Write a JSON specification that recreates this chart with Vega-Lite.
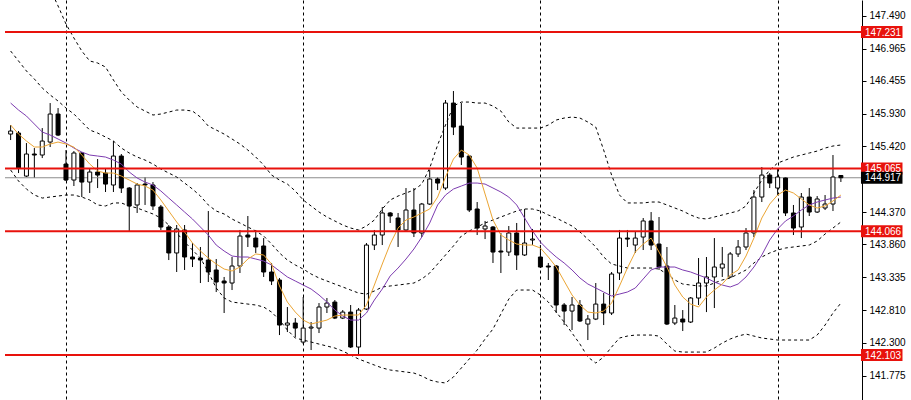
{
"$schema": "https://vega.github.io/schema/vega-lite/v6.json",
"width": 862, "height": 400, "padding": {"left": 0, "top": 0, "right": 49, "bottom": 0}, "autosize": {"type": "none"},
"background": "white",
"config": {"view": {"stroke": null}},
"datasets": {
"candles": [
{"i":0,"o":145.611,"h":145.754,"l":145.516,"c":145.659,"fast":145.754,"slow":146.103,"up":148.977,"mid":146.929,"low":145.040},
{"i":1,"o":145.627,"h":145.659,"l":144.992,"c":145.071,"fast":145.611,"slow":145.992,"up":148.850,"mid":146.771,"low":144.865},
{"i":2,"o":144.944,"h":145.468,"l":144.929,"c":145.294,"fast":145.500,"slow":145.897,"up":148.692,"mid":146.612,"low":144.738},
{"i":3,"o":145.294,"h":145.389,"l":144.913,"c":145.278,"fast":145.405,"slow":145.770,"up":148.469,"mid":146.485,"low":144.643},
{"i":4,"o":145.278,"h":145.706,"l":145.230,"c":145.500,"fast":145.405,"slow":145.643,"up":148.184,"mid":146.342,"low":144.595},
{"i":5,"o":145.484,"h":146.103,"l":145.405,"c":145.929,"fast":145.453,"slow":145.595,"up":147.914,"mid":146.231,"low":144.611},
{"i":6,"o":145.929,"h":146.024,"l":145.579,"c":145.595,"fast":145.484,"slow":145.532,"up":147.644,"mid":146.135,"low":144.627},
{"i":7,"o":145.135,"h":145.357,"l":144.865,"c":144.881,"fast":145.453,"slow":145.468,"up":147.358,"mid":146.024,"low":144.643},
{"i":8,"o":144.881,"h":145.341,"l":144.786,"c":145.310,"fast":145.405,"slow":145.389,"up":147.136,"mid":145.929,"low":144.643},
{"i":9,"o":145.310,"h":145.325,"l":144.611,"c":144.849,"fast":145.278,"slow":145.325,"up":146.929,"mid":145.802,"low":144.611},
{"i":10,"o":144.849,"h":145.071,"l":144.675,"c":145.008,"fast":145.135,"slow":145.278,"up":146.771,"mid":145.675,"low":144.564},
{"i":11,"o":145.008,"h":145.214,"l":144.754,"c":144.960,"fast":145.024,"slow":145.262,"up":146.739,"mid":145.627,"low":144.485},
{"i":12,"o":144.992,"h":145.071,"l":144.691,"c":144.817,"fast":144.992,"slow":145.246,"up":146.675,"mid":145.564,"low":144.469},
{"i":13,"o":144.802,"h":145.500,"l":144.691,"c":145.262,"fast":144.992,"slow":145.198,"up":146.469,"mid":145.500,"low":144.517},
{"i":14,"o":145.262,"h":145.294,"l":144.675,"c":144.754,"fast":144.944,"slow":145.135,"up":146.278,"mid":145.389,"low":144.517},
{"i":15,"o":144.754,"h":144.770,"l":144.056,"c":144.469,"fast":144.881,"slow":145.008,"up":146.151,"mid":145.310,"low":144.469},
{"i":16,"o":144.485,"h":144.833,"l":144.358,"c":144.802,"fast":144.817,"slow":144.913,"up":146.040,"mid":145.246,"low":144.437},
{"i":17,"o":144.817,"h":144.929,"l":144.485,"c":144.802,"fast":144.786,"slow":144.849,"up":145.976,"mid":145.198,"low":144.389},
{"i":18,"o":144.802,"h":144.849,"l":144.405,"c":144.469,"fast":144.722,"slow":144.802,"up":145.913,"mid":145.135,"low":144.342},
{"i":19,"o":144.453,"h":144.485,"l":144.088,"c":144.135,"fast":144.564,"slow":144.707,"up":145.929,"mid":145.056,"low":144.278},
{"i":20,"o":144.135,"h":144.167,"l":143.611,"c":143.723,"fast":144.389,"slow":144.595,"up":145.960,"mid":144.992,"low":144.167},
{"i":21,"o":143.723,"h":144.167,"l":143.421,"c":144.104,"fast":144.215,"slow":144.485,"up":145.992,"mid":144.929,"low":144.040},
{"i":22,"o":144.088,"h":144.167,"l":143.453,"c":143.659,"fast":144.056,"slow":144.373,"up":145.992,"mid":144.833,"low":143.897},
{"i":23,"o":143.659,"h":143.881,"l":143.500,"c":143.627,"fast":143.881,"slow":144.262,"up":145.976,"mid":144.738,"low":143.770},
{"i":24,"o":143.643,"h":143.818,"l":143.246,"c":143.611,"fast":143.754,"slow":144.135,"up":145.881,"mid":144.627,"low":143.643},
{"i":25,"o":143.611,"h":144.389,"l":143.262,"c":143.421,"fast":143.643,"slow":144.008,"up":145.738,"mid":144.485,"low":143.421},
{"i":26,"o":143.453,"h":143.627,"l":143.103,"c":143.262,"fast":143.548,"slow":143.849,"up":145.675,"mid":144.389,"low":143.167},
{"i":27,"o":143.278,"h":143.342,"l":142.770,"c":143.246,"fast":143.468,"slow":143.754,"up":145.611,"mid":144.342,"low":143.008},
{"i":28,"o":143.246,"h":143.659,"l":143.135,"c":143.516,"fast":143.437,"slow":143.675,"up":145.532,"mid":144.262,"low":142.944},
{"i":29,"o":143.516,"h":144.088,"l":143.405,"c":143.992,"fast":143.500,"slow":143.659,"up":145.453,"mid":144.199,"low":142.928},
{"i":30,"o":144.008,"h":144.310,"l":143.818,"c":143.976,"fast":143.627,"slow":143.659,"up":145.357,"mid":144.135,"low":142.912},
{"i":31,"o":143.960,"h":144.088,"l":143.723,"c":143.818,"fast":143.707,"slow":143.627,"up":145.246,"mid":144.072,"low":142.897},
{"i":32,"o":143.834,"h":143.960,"l":143.342,"c":143.421,"fast":143.691,"slow":143.595,"up":145.119,"mid":143.992,"low":142.865},
{"i":33,"o":143.421,"h":143.564,"l":143.214,"c":143.278,"fast":143.548,"slow":143.532,"up":144.960,"mid":143.865,"low":142.785},
{"i":34,"o":143.294,"h":143.326,"l":142.420,"c":142.579,"fast":143.199,"slow":143.437,"up":144.881,"mid":143.723,"low":142.658},
{"i":35,"o":142.579,"h":142.865,"l":142.468,"c":142.611,"fast":142.944,"slow":143.342,"up":144.817,"mid":143.611,"low":142.500},
{"i":36,"o":142.611,"h":142.690,"l":142.389,"c":142.531,"fast":142.785,"slow":143.278,"up":144.707,"mid":143.532,"low":142.373},
{"i":37,"o":142.309,"h":143.024,"l":142.277,"c":142.531,"fast":142.658,"slow":143.214,"up":144.564,"mid":143.468,"low":142.341},
{"i":38,"o":142.531,"h":142.627,"l":142.182,"c":142.547,"fast":142.595,"slow":143.151,"up":144.469,"mid":143.389,"low":142.309},
{"i":39,"o":142.531,"h":142.928,"l":142.452,"c":142.865,"fast":142.627,"slow":143.056,"up":144.373,"mid":143.326,"low":142.277},
{"i":40,"o":142.865,"h":143.008,"l":142.770,"c":142.928,"fast":142.658,"slow":142.944,"up":144.294,"mid":143.278,"low":142.246},
{"i":41,"o":142.944,"h":142.976,"l":142.674,"c":142.690,"fast":142.722,"slow":142.817,"up":144.231,"mid":143.230,"low":142.214},
{"i":42,"o":142.690,"h":142.817,"l":142.674,"c":142.785,"fast":142.738,"slow":142.722,"up":144.167,"mid":143.183,"low":142.166},
{"i":43,"o":142.785,"h":142.897,"l":142.214,"c":142.230,"fast":142.738,"slow":142.658,"up":144.119,"mid":143.135,"low":142.103},
{"i":44,"o":142.230,"h":142.849,"l":142.087,"c":142.817,"fast":142.738,"slow":142.658,"up":144.088,"mid":143.087,"low":142.040},
{"i":45,"o":142.833,"h":143.881,"l":142.817,"c":143.849,"fast":142.897,"slow":142.770,"up":144.151,"mid":143.071,"low":141.992},
{"i":46,"o":143.849,"h":144.088,"l":143.770,"c":144.008,"fast":143.214,"slow":142.976,"up":144.246,"mid":143.119,"low":141.944},
{"i":47,"o":144.008,"h":144.453,"l":143.849,"c":144.358,"fast":143.548,"slow":143.151,"up":144.421,"mid":143.183,"low":141.897},
{"i":48,"o":144.358,"h":144.373,"l":144.199,"c":144.310,"fast":143.865,"slow":143.357,"up":144.564,"mid":143.199,"low":141.865},
{"i":49,"o":144.278,"h":144.358,"l":143.818,"c":144.088,"fast":144.119,"slow":143.484,"up":144.627,"mid":143.214,"low":141.849},
{"i":50,"o":144.088,"h":144.754,"l":144.056,"c":144.405,"fast":144.246,"slow":143.627,"up":144.675,"mid":143.230,"low":141.833},
{"i":51,"o":144.405,"h":144.754,"l":143.976,"c":144.040,"fast":144.294,"slow":143.786,"up":144.722,"mid":143.246,"low":141.817},
{"i":52,"o":144.040,"h":144.517,"l":143.976,"c":144.500,"fast":144.358,"slow":143.976,"up":144.817,"mid":143.310,"low":141.770},
{"i":53,"o":144.500,"h":145.040,"l":144.485,"c":144.897,"fast":144.421,"slow":144.199,"up":145.071,"mid":143.405,"low":141.706},
{"i":54,"o":144.897,"h":144.929,"l":144.722,"c":144.833,"fast":144.611,"slow":144.485,"up":145.437,"mid":143.548,"low":141.675},
{"i":55,"o":144.754,"h":146.151,"l":144.722,"c":146.103,"fast":144.929,"slow":144.643,"up":145.754,"mid":143.691,"low":141.659},
{"i":56,"o":146.103,"h":146.294,"l":145.595,"c":145.722,"fast":145.214,"slow":144.738,"up":146.056,"mid":143.834,"low":141.754},
{"i":57,"o":145.738,"h":146.103,"l":145.119,"c":145.246,"fast":145.357,"slow":144.786,"up":146.119,"mid":143.992,"low":141.897},
{"i":58,"o":145.262,"h":145.278,"l":144.373,"c":144.405,"fast":145.278,"slow":144.833,"up":146.119,"mid":144.072,"low":142.040},
{"i":59,"o":144.421,"h":144.532,"l":144.008,"c":144.119,"fast":145.071,"slow":144.833,"up":146.103,"mid":144.135,"low":142.182},
{"i":60,"o":144.104,"h":144.231,"l":143.944,"c":144.151,"fast":144.659,"slow":144.817,"up":146.103,"mid":144.199,"low":142.357},
{"i":61,"o":144.135,"h":144.151,"l":143.564,"c":143.738,"fast":144.246,"slow":144.754,"up":146.056,"mid":144.246,"low":142.516},
{"i":62,"o":143.754,"h":144.040,"l":143.405,"c":143.738,"fast":144.008,"slow":144.691,"up":145.976,"mid":144.294,"low":142.754},
{"i":63,"o":143.738,"h":144.151,"l":143.675,"c":144.040,"fast":143.929,"slow":144.611,"up":145.802,"mid":144.342,"low":142.992},
{"i":64,"o":144.040,"h":144.199,"l":143.453,"c":143.691,"fast":143.865,"slow":144.485,"up":145.706,"mid":144.389,"low":143.135},
{"i":65,"o":143.691,"h":144.421,"l":143.675,"c":143.881,"fast":143.849,"slow":144.278,"up":145.706,"mid":144.421,"low":143.135},
{"i":66,"o":143.929,"h":144.104,"l":143.849,"c":143.944,"fast":143.849,"slow":144.072,"up":145.706,"mid":144.421,"low":143.135},
{"i":67,"o":143.659,"h":143.849,"l":143.484,"c":143.500,"fast":143.802,"slow":143.897,"up":145.706,"mid":144.389,"low":143.056},
{"i":68,"o":143.516,"h":143.564,"l":143.294,"c":143.500,"fast":143.659,"slow":143.770,"up":145.754,"mid":144.326,"low":142.944},
{"i":69,"o":143.516,"h":143.532,"l":142.770,"c":142.897,"fast":143.500,"slow":143.659,"up":145.834,"mid":144.278,"low":142.785},
{"i":70,"o":142.897,"h":142.928,"l":142.579,"c":142.801,"fast":143.278,"slow":143.564,"up":145.865,"mid":144.215,"low":142.627},
{"i":71,"o":142.801,"h":143.024,"l":142.500,"c":142.897,"fast":143.056,"slow":143.453,"up":145.881,"mid":144.151,"low":142.452},
{"i":72,"o":142.897,"h":142.976,"l":142.627,"c":142.643,"fast":142.897,"slow":143.326,"up":145.865,"mid":144.056,"low":142.277},
{"i":73,"o":142.595,"h":142.738,"l":142.341,"c":142.674,"fast":142.785,"slow":143.230,"up":145.802,"mid":143.944,"low":142.071},
{"i":74,"o":142.674,"h":143.246,"l":142.658,"c":142.912,"fast":142.770,"slow":143.167,"up":145.722,"mid":143.818,"low":141.976},
{"i":75,"o":142.912,"h":143.087,"l":142.579,"c":142.770,"fast":142.801,"slow":143.103,"up":145.357,"mid":143.659,"low":142.071},
{"i":76,"o":142.770,"h":143.421,"l":142.738,"c":143.389,"fast":142.928,"slow":143.040,"up":144.960,"mid":143.548,"low":142.230},
{"i":77,"o":143.405,"h":144.088,"l":143.294,"c":143.960,"fast":143.199,"slow":143.071,"up":144.643,"mid":143.516,"low":142.373},
{"i":78,"o":143.960,"h":144.088,"l":143.818,"c":143.944,"fast":143.484,"slow":143.103,"up":144.517,"mid":143.484,"low":142.404},
{"i":79,"o":143.849,"h":144.056,"l":143.723,"c":143.960,"fast":143.738,"slow":143.167,"up":144.517,"mid":143.484,"low":142.420},
{"i":80,"o":143.976,"h":144.278,"l":143.770,"c":144.231,"fast":143.865,"slow":143.310,"up":144.517,"mid":143.484,"low":142.420},
{"i":81,"o":144.231,"h":144.373,"l":143.770,"c":143.849,"fast":143.960,"slow":143.453,"up":144.532,"mid":143.484,"low":142.420},
{"i":82,"o":143.865,"h":144.294,"l":143.453,"c":143.500,"fast":143.738,"slow":143.500,"up":144.532,"mid":143.468,"low":142.404},
{"i":83,"o":143.516,"h":143.818,"l":142.579,"c":142.595,"fast":143.500,"slow":143.500,"up":144.485,"mid":143.389,"low":142.277},
{"i":84,"o":142.611,"h":142.897,"l":142.579,"c":142.690,"fast":143.214,"slow":143.500,"up":144.437,"mid":143.294,"low":142.166},
{"i":85,"o":142.674,"h":142.817,"l":142.484,"c":142.627,"fast":143.024,"slow":143.453,"up":144.389,"mid":143.230,"low":142.150},
{"i":86,"o":142.627,"h":143.024,"l":142.611,"c":143.008,"fast":142.912,"slow":143.421,"up":144.326,"mid":143.214,"low":142.150},
{"i":87,"o":143.008,"h":143.643,"l":142.897,"c":143.246,"fast":142.865,"slow":143.373,"up":144.278,"mid":143.199,"low":142.150},
{"i":88,"o":143.246,"h":143.659,"l":142.785,"c":143.342,"fast":143.024,"slow":143.326,"up":144.262,"mid":143.199,"low":142.150},
{"i":89,"o":143.342,"h":143.960,"l":142.849,"c":143.500,"fast":143.135,"slow":143.262,"up":144.294,"mid":143.246,"low":142.214},
{"i":90,"o":143.484,"h":143.818,"l":143.342,"c":143.548,"fast":143.230,"slow":143.214,"up":144.326,"mid":143.294,"low":142.293},
{"i":91,"o":143.342,"h":143.738,"l":143.326,"c":143.707,"fast":143.373,"slow":143.183,"up":144.358,"mid":143.326,"low":142.357},
{"i":92,"o":143.707,"h":143.929,"l":143.659,"c":143.818,"fast":143.453,"slow":143.230,"up":144.389,"mid":143.389,"low":142.404},
{"i":93,"o":143.818,"h":144.119,"l":143.770,"c":144.040,"fast":143.675,"slow":143.342,"up":144.469,"mid":143.453,"low":142.436},
{"i":94,"o":144.040,"h":144.722,"l":143.976,"c":144.611,"fast":143.960,"slow":143.500,"up":144.675,"mid":143.564,"low":142.404},
{"i":95,"o":144.611,"h":145.087,"l":144.532,"c":144.960,"fast":144.278,"slow":143.691,"up":144.881,"mid":143.659,"low":142.373},
{"i":96,"o":144.960,"h":144.992,"l":144.754,"c":144.833,"fast":144.500,"slow":143.929,"up":145.040,"mid":143.723,"low":142.357},
{"i":97,"o":144.754,"h":145.071,"l":144.643,"c":144.929,"fast":144.643,"slow":144.104,"up":145.151,"mid":143.770,"low":142.341},
{"i":98,"o":144.913,"h":144.929,"l":144.310,"c":144.358,"fast":144.722,"slow":144.231,"up":145.198,"mid":143.802,"low":142.341},
{"i":99,"o":144.358,"h":144.485,"l":144.008,"c":144.119,"fast":144.675,"slow":144.310,"up":145.246,"mid":143.818,"low":142.341},
{"i":100,"o":144.135,"h":144.675,"l":143.960,"c":144.611,"fast":144.580,"slow":144.405,"up":145.278,"mid":143.834,"low":142.341},
{"i":101,"o":144.611,"h":144.754,"l":144.310,"c":144.373,"fast":144.485,"slow":144.485,"up":145.310,"mid":143.849,"low":142.341},
{"i":102,"o":144.373,"h":144.627,"l":144.358,"c":144.580,"fast":144.437,"slow":144.532,"up":145.341,"mid":143.913,"low":142.420},
{"i":103,"o":144.437,"h":144.643,"l":144.405,"c":144.500,"fast":144.469,"slow":144.564,"up":145.389,"mid":144.024,"low":142.579},
{"i":104,"o":144.500,"h":145.278,"l":144.389,"c":144.929,"fast":144.548,"slow":144.595,"up":145.421,"mid":144.119,"low":142.770},
{"i":105,"o":144.953,"h":144.953,"l":144.850,"c":144.917,"fast":144.643,"slow":144.611,"up":145.437,"mid":144.215,"low":142.928}
],
"levels": [{"p":147.231},{"p":145.065},{"p":144.066},{"p":142.103}],
"bid": [{"p":144.917}]
},
"layer": [
{"data":{"name":"candles"},"mark":{"type":"rule","color":"black","strokeWidth":1},
 "encoding":{
  "x":{"field":"i","type":"quantitative","scale":{"domain":[-0.7125,107.0375],"nice":false,"zero":false},"axis":{"values":[7,37,67,97],"grid":true,"gridColor":"black","gridDash":[3,3],"gridOpacity":1,"gridWidth":1,"labels":false,"ticks":false,"domain":false,"title":null}},
  "y":{"field":"l","type":"quantitative","scale":{"domain":[141.389,147.739],"nice":false,"zero":false},"axis":{"orient":"right","values":[147.49,146.965,146.455,145.93,145.42,144.37,143.86,143.335,142.81,142.3,141.775],"format":".3f","title":null,"grid":false,"tickSize":4,"tickColor":"black","domainColor":"black","labelColor":"black","labelFont":"Liberation Sans","labelFontSize":10,"labelPadding":3,"labelFlush":false,"labelOverlap":false}},
  "y2":{"field":"h"}}},
{"data":{"name":"bid"},"mark":{"type":"rule","color":"#8c8c8c","strokeWidth":1},
 "encoding":{"x":{"datum":-0.7125,"type":"quantitative","scale":{"domain":[-0.7125,107.0375],"nice":false,"zero":false},"axis":{"values":[7,37,67,97],"grid":true,"gridColor":"black","gridDash":[3,3],"gridOpacity":1,"gridWidth":1,"labels":false,"ticks":false,"domain":false,"title":null}},
  "x2":{"datum":107.6},
  "y":{"field":"p","type":"quantitative","scale":{"domain":[141.389,147.739],"nice":false,"zero":false},"axis":{"orient":"right","values":[147.49,146.965,146.455,145.93,145.42,144.37,143.86,143.335,142.81,142.3,141.775],"format":".3f","title":null,"grid":false,"tickSize":4,"tickColor":"black","domainColor":"black","labelColor":"black","labelFont":"Liberation Sans","labelFontSize":10,"labelPadding":3,"labelFlush":false,"labelOverlap":false}}}},
{"data":{"name":"candles"},"mark":{"type":"bar","width":4,"stroke":"black","strokeWidth":1},
 "encoding":{
  "x":{"field":"i","type":"quantitative","scale":{"domain":[-0.7125,107.0375],"nice":false,"zero":false},"axis":{"values":[7,37,67,97],"grid":true,"gridColor":"black","gridDash":[3,3],"gridOpacity":1,"gridWidth":1,"labels":false,"ticks":false,"domain":false,"title":null}},
  "y":{"field":"o","type":"quantitative","scale":{"domain":[141.389,147.739],"nice":false,"zero":false},"axis":{"orient":"right","values":[147.49,146.965,146.455,145.93,145.42,144.37,143.86,143.335,142.81,142.3,141.775],"format":".3f","title":null,"grid":false,"tickSize":4,"tickColor":"black","domainColor":"black","labelColor":"black","labelFont":"Liberation Sans","labelFontSize":10,"labelPadding":3,"labelFlush":false,"labelOverlap":false}},
  "y2":{"field":"c"},
  "fill":{"condition":{"test":"datum.c < datum.o","value":"black"},"value":"white"}}},
{"data":{"name":"candles"},"mark":{"type":"line","color":"black","strokeWidth":1,"strokeDash":[3,3],"clip":true},
 "encoding":{"x":{"field":"i","type":"quantitative","scale":{"domain":[-0.7125,107.0375],"nice":false,"zero":false},"axis":{"values":[7,37,67,97],"grid":true,"gridColor":"black","gridDash":[3,3],"gridOpacity":1,"gridWidth":1,"labels":false,"ticks":false,"domain":false,"title":null}},
  "y":{"field":"up","type":"quantitative","scale":{"domain":[141.389,147.739],"nice":false,"zero":false},"axis":{"orient":"right","values":[147.49,146.965,146.455,145.93,145.42,144.37,143.86,143.335,142.81,142.3,141.775],"format":".3f","title":null,"grid":false,"tickSize":4,"tickColor":"black","domainColor":"black","labelColor":"black","labelFont":"Liberation Sans","labelFontSize":10,"labelPadding":3,"labelFlush":false,"labelOverlap":false}}}},
{"data":{"name":"candles"},"mark":{"type":"line","color":"black","strokeWidth":1,"strokeDash":[3,3],"clip":true},
 "encoding":{"x":{"field":"i","type":"quantitative","scale":{"domain":[-0.7125,107.0375],"nice":false,"zero":false},"axis":{"values":[7,37,67,97],"grid":true,"gridColor":"black","gridDash":[3,3],"gridOpacity":1,"gridWidth":1,"labels":false,"ticks":false,"domain":false,"title":null}},
  "y":{"field":"mid","type":"quantitative","scale":{"domain":[141.389,147.739],"nice":false,"zero":false},"axis":{"orient":"right","values":[147.49,146.965,146.455,145.93,145.42,144.37,143.86,143.335,142.81,142.3,141.775],"format":".3f","title":null,"grid":false,"tickSize":4,"tickColor":"black","domainColor":"black","labelColor":"black","labelFont":"Liberation Sans","labelFontSize":10,"labelPadding":3,"labelFlush":false,"labelOverlap":false}}}},
{"data":{"name":"candles"},"mark":{"type":"line","color":"black","strokeWidth":1,"strokeDash":[3,3],"clip":true},
 "encoding":{"x":{"field":"i","type":"quantitative","scale":{"domain":[-0.7125,107.0375],"nice":false,"zero":false},"axis":{"values":[7,37,67,97],"grid":true,"gridColor":"black","gridDash":[3,3],"gridOpacity":1,"gridWidth":1,"labels":false,"ticks":false,"domain":false,"title":null}},
  "y":{"field":"low","type":"quantitative","scale":{"domain":[141.389,147.739],"nice":false,"zero":false},"axis":{"orient":"right","values":[147.49,146.965,146.455,145.93,145.42,144.37,143.86,143.335,142.81,142.3,141.775],"format":".3f","title":null,"grid":false,"tickSize":4,"tickColor":"black","domainColor":"black","labelColor":"black","labelFont":"Liberation Sans","labelFontSize":10,"labelPadding":3,"labelFlush":false,"labelOverlap":false}}}},
{"data":{"name":"candles"},"mark":{"type":"line","color":"#7d3cb0","strokeWidth":1,"clip":true},
 "encoding":{"x":{"field":"i","type":"quantitative","scale":{"domain":[-0.7125,107.0375],"nice":false,"zero":false},"axis":{"values":[7,37,67,97],"grid":true,"gridColor":"black","gridDash":[3,3],"gridOpacity":1,"gridWidth":1,"labels":false,"ticks":false,"domain":false,"title":null}},
  "y":{"field":"slow","type":"quantitative","scale":{"domain":[141.389,147.739],"nice":false,"zero":false},"axis":{"orient":"right","values":[147.49,146.965,146.455,145.93,145.42,144.37,143.86,143.335,142.81,142.3,141.775],"format":".3f","title":null,"grid":false,"tickSize":4,"tickColor":"black","domainColor":"black","labelColor":"black","labelFont":"Liberation Sans","labelFontSize":10,"labelPadding":3,"labelFlush":false,"labelOverlap":false}}}},
{"data":{"name":"candles"},"mark":{"type":"line","color":"#eba534","strokeWidth":1,"clip":true},
 "encoding":{"x":{"field":"i","type":"quantitative","scale":{"domain":[-0.7125,107.0375],"nice":false,"zero":false},"axis":{"values":[7,37,67,97],"grid":true,"gridColor":"black","gridDash":[3,3],"gridOpacity":1,"gridWidth":1,"labels":false,"ticks":false,"domain":false,"title":null}},
  "y":{"field":"fast","type":"quantitative","scale":{"domain":[141.389,147.739],"nice":false,"zero":false},"axis":{"orient":"right","values":[147.49,146.965,146.455,145.93,145.42,144.37,143.86,143.335,142.81,142.3,141.775],"format":".3f","title":null,"grid":false,"tickSize":4,"tickColor":"black","domainColor":"black","labelColor":"black","labelFont":"Liberation Sans","labelFontSize":10,"labelPadding":3,"labelFlush":false,"labelOverlap":false}}}},
{"data":{"name":"levels"},"mark":{"type":"rule","color":"#e8120c","strokeWidth":2},
 "encoding":{"x":{"datum":-0.7125,"type":"quantitative","scale":{"domain":[-0.7125,107.0375],"nice":false,"zero":false},"axis":{"values":[7,37,67,97],"grid":true,"gridColor":"black","gridDash":[3,3],"gridOpacity":1,"gridWidth":1,"labels":false,"ticks":false,"domain":false,"title":null}},
  "x2":{"datum":107.6},
  "y":{"field":"p","type":"quantitative","scale":{"domain":[141.389,147.739],"nice":false,"zero":false},"axis":{"orient":"right","values":[147.49,146.965,146.455,145.93,145.42,144.37,143.86,143.335,142.81,142.3,141.775],"format":".3f","title":null,"grid":false,"tickSize":4,"tickColor":"black","domainColor":"black","labelColor":"black","labelFont":"Liberation Sans","labelFontSize":10,"labelPadding":3,"labelFlush":false,"labelOverlap":false}}}},
{"data":{"name":"levels"},"mark":{"type":"rect","height":12,"color":"#e8120c"},
 "encoding":{"x":{"datum":107.54,"type":"quantitative","scale":{"domain":[-0.7125,107.0375],"nice":false,"zero":false},"axis":{"values":[7,37,67,97],"grid":true,"gridColor":"black","gridDash":[3,3],"gridOpacity":1,"gridWidth":1,"labels":false,"ticks":false,"domain":false,"title":null}},
  "x2":{"datum":112.79},
  "y":{"field":"p","type":"quantitative","scale":{"domain":[141.389,147.739],"nice":false,"zero":false},"axis":{"orient":"right","values":[147.49,146.965,146.455,145.93,145.42,144.37,143.86,143.335,142.81,142.3,141.775],"format":".3f","title":null,"grid":false,"tickSize":4,"tickColor":"black","domainColor":"black","labelColor":"black","labelFont":"Liberation Sans","labelFontSize":10,"labelPadding":3,"labelFlush":false,"labelOverlap":false}}}},
{"data":{"name":"bid"},"mark":{"type":"rect","height":12,"color":"black"},
 "encoding":{"x":{"datum":107.54,"type":"quantitative","scale":{"domain":[-0.7125,107.0375],"nice":false,"zero":false},"axis":{"values":[7,37,67,97],"grid":true,"gridColor":"black","gridDash":[3,3],"gridOpacity":1,"gridWidth":1,"labels":false,"ticks":false,"domain":false,"title":null}},
  "x2":{"datum":112.79},
  "y":{"field":"p","type":"quantitative","scale":{"domain":[141.389,147.739],"nice":false,"zero":false},"axis":{"orient":"right","values":[147.49,146.965,146.455,145.93,145.42,144.37,143.86,143.335,142.81,142.3,141.775],"format":".3f","title":null,"grid":false,"tickSize":4,"tickColor":"black","domainColor":"black","labelColor":"black","labelFont":"Liberation Sans","labelFontSize":10,"labelPadding":3,"labelFlush":false,"labelOverlap":false}}}},
{"data":{"name":"levels"},"mark":{"type":"text","align":"left","baseline":"middle","color":"white","font":"Liberation Sans","fontSize":10,"dy":0.5},
 "encoding":{"x":{"datum":108.05,"type":"quantitative","scale":{"domain":[-0.7125,107.0375],"nice":false,"zero":false},"axis":{"values":[7,37,67,97],"grid":true,"gridColor":"black","gridDash":[3,3],"gridOpacity":1,"gridWidth":1,"labels":false,"ticks":false,"domain":false,"title":null}},
  "y":{"field":"p","type":"quantitative","scale":{"domain":[141.389,147.739],"nice":false,"zero":false},"axis":{"orient":"right","values":[147.49,146.965,146.455,145.93,145.42,144.37,143.86,143.335,142.81,142.3,141.775],"format":".3f","title":null,"grid":false,"tickSize":4,"tickColor":"black","domainColor":"black","labelColor":"black","labelFont":"Liberation Sans","labelFontSize":10,"labelPadding":3,"labelFlush":false,"labelOverlap":false}},
  "text":{"field":"p","type":"quantitative","format":".3f"}}},
{"data":{"name":"bid"},"mark":{"type":"text","align":"left","baseline":"middle","color":"white","font":"Liberation Sans","fontSize":10,"dy":0.5},
 "encoding":{"x":{"datum":108.05,"type":"quantitative","scale":{"domain":[-0.7125,107.0375],"nice":false,"zero":false},"axis":{"values":[7,37,67,97],"grid":true,"gridColor":"black","gridDash":[3,3],"gridOpacity":1,"gridWidth":1,"labels":false,"ticks":false,"domain":false,"title":null}},
  "y":{"field":"p","type":"quantitative","scale":{"domain":[141.389,147.739],"nice":false,"zero":false},"axis":{"orient":"right","values":[147.49,146.965,146.455,145.93,145.42,144.37,143.86,143.335,142.81,142.3,141.775],"format":".3f","title":null,"grid":false,"tickSize":4,"tickColor":"black","domainColor":"black","labelColor":"black","labelFont":"Liberation Sans","labelFontSize":10,"labelPadding":3,"labelFlush":false,"labelOverlap":false}},
  "text":{"field":"p","type":"quantitative","format":".3f"}}}
]
}
